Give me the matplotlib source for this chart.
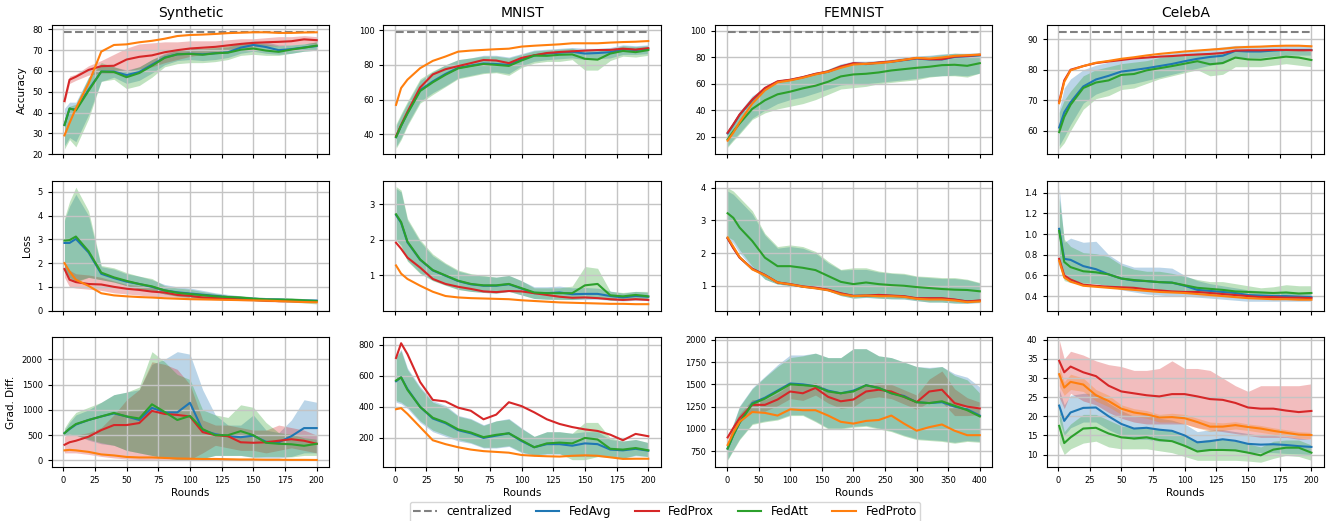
import matplotlib
matplotlib.use("Agg")
import matplotlib.pyplot as plt

# rounds at which the curves were logged
R200 = [1, 5, 10, 20, 30, 40, 50, 60, 70, 80, 90, 100, 110, 120, 130, 140, 150, 160, 170, 180, 190, 200]
R400 = [1, 10, 20, 40, 60, 80, 100, 120, 140, 160, 180, 200, 220, 240, 260, 280, 300, 320, 340, 360, 380, 400]

DATASETS = ["Synthetic", "MNIST", "FEMNIST", "CelebA"]
ROW_LABELS = ["Accuracy", "Loss", "Grad. Diff."]
METHODS = ["FedAvg", "FedProx", "FedAtt", "FedProto"]
CENTRALIZED = [78.5, 99.0, 99.2, 92.5]

# each entry: (mean, lower, upper); None where the spread is negligible
SYN_ACC = {
    "FedAvg": ([34, 41.8, 41.5, 51, 59.7, 59.7, 58, 59.5, 63, 66.5, 68, 68.3, 68, 68.5, 69, 71.2, 72.5, 71.5, 70, 70.5, 71.3, 72],
               [24, 28, 26, 39, 55, 57, 54, 55.5, 59, 63, 65, 65.5, 65, 65.5, 66.5, 68.5, 69.5, 68.5, 68, 68.5, 69.5, 70],
               [42, 45, 45, 57, 63, 62, 60.5, 62, 65.5, 68.5, 70.5, 71, 70.5, 71, 71.5, 73.5, 74.5, 74, 72.5, 72.5, 73, 74]),
    "FedProx": ([45.5, 55.8, 57.2, 60.5, 62.3, 62.5, 65.5, 66.8, 67.5, 69, 70, 70.8, 71.2, 71.6, 72.3, 73, 73.5, 73.8, 74, 74.3, 75.2, 74.8],
                [44, 54, 55.5, 58, 59, 59, 60, 61, 62, 64, 65.5, 67, 68, 69, 70, 71, 71.5, 72, 72, 72.5, 73, 73],
                [47, 57.5, 58.5, 62.5, 65, 68, 71, 73, 73.5, 74, 74, 74.5, 74.5, 74.5, 75, 75.5, 75.5, 76, 76.5, 76.5, 77, 76.5]),
    "FedAtt": ([34, 42, 41, 50.5, 59.7, 59.5, 57, 59, 62.5, 66.3, 68, 68.2, 67.8, 68.5, 68.8, 70.2, 70.8, 69.8, 69.2, 70.3, 71.2, 72.2],
               [22.5, 27, 23.5, 37, 55, 56, 51.5, 53, 57, 62, 63.5, 64, 64, 64.5, 65.5, 67.5, 68, 67.5, 67.5, 68.5, 69.5, 70],
               [36, 43, 44, 57, 64, 62, 60, 62, 65.5, 68, 70, 71, 71, 71.5, 72, 73.5, 73.5, 73, 72, 72.5, 73, 74]),
    "FedProto": ([29, 35, 42, 54, 69.3, 72.5, 72.8, 73.8, 74.5, 75.5, 76.8, 77.3, 77.5, 77.8, 78.2, 78.4, 78.6, 78.6, 78.3, 78.3, 78.5, 78.6],
                 None, None),
}
MNIST_ACC = {
    "FedAvg": ([38.5, 45, 52.5, 65.5, 70.5, 74.8, 78.3, 79.6, 80.8, 80.5, 80, 83, 85.5, 86.5, 87, 87.5, 86.5, 86.8, 87.3, 89, 88.5, 89.2],
               [33, 38, 46, 59, 64, 68, 72.5, 74, 75.5, 76, 75, 79.5, 82, 83, 83.5, 84, 83, 83.5, 84, 86, 86, 86.5],
               [45, 51, 58, 71, 76, 80, 83, 84, 85.5, 85.5, 84.5, 86.5, 88.5, 89, 89.5, 90, 89.5, 89.5, 90, 91.5, 91, 91.5]),
    "FedProx": ([39, 45.5, 53, 67, 74.5, 77.5, 79.3, 81, 82.8, 82.5, 81, 84, 85.5, 86.8, 87.4, 87.8, 88.2, 88.5, 88.6, 89.3, 88.8, 89.6],
                None, None),
    "FedAtt": ([38.5, 45, 52, 65, 70, 74.3, 78, 79.3, 80.5, 80, 79.4, 82.5, 85.3, 85.2, 85.8, 86, 83.5, 83, 86.5, 88, 87.3, 88.5],
               [32, 37, 45, 58, 63, 67.5, 72, 73.5, 75, 75.5, 74, 78.5, 81, 82, 82, 83, 77, 77, 82.5, 85, 84.5, 85.5],
               [46, 52, 59, 72, 76.5, 80, 83, 84, 85, 85, 84, 86, 88, 88.5, 89, 89.5, 88, 88, 89, 91, 90.5, 91]),
    "FedProto": ([57, 66.7, 71.5, 78.1, 82.3, 84.8, 87.6, 88.2, 88.6, 89, 89.3, 90.5, 91, 91.4, 91.8, 92.4, 92.4, 92.4, 92.8, 93.1, 93.3, 93.7],
                 None, None),
}
FEMNIST_ACC = {
    "FedAvg": ([22.5, 29, 36.5, 47.5, 56.5, 61.5, 62.8, 64.8, 67.3, 69, 72.7, 75.2, 74.8, 75.8, 76.5, 77.8, 79, 78.3, 78.3, 80.2, 80.7, 81.5],
               [13, 18, 23, 34, 40, 45, 48, 50, 53, 56, 59, 60, 60, 61, 62, 63, 64, 65.5, 66, 66.5, 66, 68],
               [24, 31, 39, 51, 57, 61, 63.5, 65.5, 68, 71, 75, 77, 77, 77.5, 78.5, 80, 81, 81.5, 82.5, 83, 83, 83.5]),
    "FedProx": ([23, 29.3, 36.8, 48, 56.8, 61.8, 63, 65, 67.5, 69.3, 73, 75.5, 75, 76, 76.8, 78, 79.3, 78.5, 78.5, 80.5, 81, 81.8],
                None, None),
    "FedAtt": ([18, 24, 30, 41, 47.5, 52, 54, 56.5, 58.5, 61.5, 65.5, 67, 67.5, 68.5, 70, 71, 72, 72.8, 74, 74.3, 73.5, 75.5],
               [12, 17, 22, 33, 38, 41, 43, 45, 48, 52, 56, 57, 58, 60, 61, 62, 63, 65, 66, 66, 65, 68],
               [22, 30, 38, 50, 56, 60.5, 63, 65, 67.5, 71, 74.5, 76, 76.5, 77, 78, 79.5, 80.5, 81, 82, 83, 82.5, 83]),
    "FedProto": ([17, 23, 31, 45, 55, 61, 62.5, 64.5, 67, 69, 72, 74.5, 75, 75.5, 76.5, 78, 79.5, 79, 79.8, 81, 81.5, 82],
                 None, None),
}
CELEBA_ACC = {
    "FedAvg": ([61, 66, 69.3, 74.5, 76.8, 78, 79.4, 79.9, 80.5, 81.2, 81.9, 82.8, 83.6, 84.2, 84.6, 86.2, 86, 86, 86.3, 86.5, 86.5, 86.5],
               [55, 58, 62, 69, 72, 73.5, 75, 75.5, 76.5, 77.5, 78.5, 79.5, 80.5, 81.5, 82, 84, 84, 84, 84.5, 84.8, 84.8, 84.8],
               [67, 74, 77, 80, 81.5, 82.5, 83.5, 84, 84.5, 85, 85.5, 86, 86.5, 87, 87.5, 88, 88, 88, 88, 88.2, 88.2, 88.2]),
    "FedProx": ([69.5, 76.5, 80, 81.2, 82.2, 82.7, 83.2, 83.7, 84, 84.3, 84.5, 84.8, 85, 85.2, 85.5, 86.3, 86.4, 86.4, 86.5, 86.5, 86.4, 86.4],
                None, None),
    "FedAtt": ([59.5, 64.5, 68.5, 74, 75.8, 76.5, 78.3, 78.6, 79.8, 80.5, 81.2, 82, 82.8, 81.8, 82.2, 84, 83.4, 83.3, 83.8, 84.3, 84, 83.2],
               [54, 56, 60, 67, 70.5, 71.5, 73.5, 74, 75.5, 77, 78, 79, 80, 78, 78.5, 81, 81, 81, 81.5, 82, 81.5, 81],
               [66, 70, 73, 78, 80, 81, 82, 82.5, 83, 84, 84.5, 85, 85.5, 85.5, 86, 86.5, 86.5, 86, 86.5, 86.5, 86.5, 86]),
    "FedProto": ([69, 76, 79.8, 81.2, 82.3, 82.9, 83.6, 84.1, 84.7, 85.2, 85.6, 86, 86.3, 86.6, 86.9, 87.3, 87.5, 87.6, 87.8, 87.9, 87.9, 87.7],
                 None, None),
}

SYN_LOSS = {
    "FedAvg": ([2.85, 2.85, 3.02, 2.45, 1.55, 1.37, 1.22, 1.12, 1.0, 0.85, 0.77, 0.72, 0.67, 0.62, 0.57, 0.53, 0.5, 0.47, 0.46, 0.44, 0.42, 0.42],
               [1.8, 1.4, 1.25, 1.4, 1.3, 1.2, 1.05, 0.92, 0.85, 0.7, 0.62, 0.57, 0.52, 0.5, 0.48, 0.45, 0.42, 0.4, 0.38, 0.36, 0.35, 0.35],
               [3.8, 4.4, 4.9, 4.0, 1.85, 1.75, 1.55, 1.45, 1.3, 1.1, 1.0, 0.95, 0.85, 0.75, 0.68, 0.62, 0.58, 0.55, 0.55, 0.52, 0.5, 0.48]),
    "FedProx": ([1.75, 1.3, 1.2, 1.12, 1.1, 1.0, 0.92, 0.87, 0.8, 0.76, 0.66, 0.62, 0.55, 0.53, 0.5, 0.47, 0.45, 0.42, 0.4, 0.4, 0.38, 0.38],
                [1.4, 1.0, 0.95, 0.9, 0.85, 0.75, 0.7, 0.65, 0.6, 0.58, 0.55, 0.5, 0.48, 0.46, 0.44, 0.42, 0.4, 0.38, 0.36, 0.36, 0.34, 0.34],
                [2.0, 1.7, 1.55, 1.5, 1.4, 1.25, 1.1, 1.05, 1.0, 0.92, 0.82, 0.75, 0.66, 0.62, 0.56, 0.52, 0.5, 0.46, 0.44, 0.44, 0.42, 0.42]),
    "FedAtt": ([2.95, 2.97, 3.12, 2.5, 1.6, 1.4, 1.25, 1.12, 1.02, 0.85, 0.75, 0.7, 0.65, 0.6, 0.57, 0.55, 0.5, 0.47, 0.46, 0.45, 0.43, 0.4],
               [1.7, 1.3, 1.2, 1.4, 1.3, 1.2, 1.05, 0.9, 0.85, 0.7, 0.6, 0.55, 0.5, 0.5, 0.47, 0.45, 0.42, 0.4, 0.38, 0.36, 0.32, 0.28],
               [3.9, 4.6, 5.2, 4.2, 1.9, 1.8, 1.6, 1.45, 1.35, 1.05, 0.95, 0.9, 0.8, 0.72, 0.65, 0.62, 0.58, 0.55, 0.55, 0.55, 0.5, 0.48]),
    "FedProto": ([2.0, 1.65, 1.3, 1.04, 0.73, 0.64, 0.6, 0.57, 0.55, 0.52, 0.5, 0.48, 0.47, 0.46, 0.45, 0.44, 0.43, 0.42, 0.4, 0.38, 0.36, 0.35],
                 None, None),
}
MNIST_LOSS = {
    "FedAvg": ([2.7, 2.48, 1.93, 1.44, 1.14, 0.99, 0.84, 0.75, 0.71, 0.71, 0.75, 0.63, 0.5, 0.5, 0.52, 0.47, 0.48, 0.48, 0.42, 0.38, 0.42, 0.4],
               [2.0, 1.85, 1.42, 1.07, 0.86, 0.73, 0.61, 0.55, 0.52, 0.5, 0.55, 0.45, 0.35, 0.33, 0.33, 0.32, 0.32, 0.33, 0.3, 0.28, 0.3, 0.3],
               [3.45, 3.35, 2.55, 1.95, 1.55, 1.32, 1.12, 1.03, 0.98, 0.95, 1.0, 0.85, 0.68, 0.68, 0.7, 0.65, 0.66, 0.64, 0.56, 0.5, 0.55, 0.52]),
    "FedProx": ([1.92, 1.75, 1.5, 1.22, 0.9, 0.76, 0.68, 0.62, 0.55, 0.53, 0.56, 0.55, 0.5, 0.45, 0.4, 0.37, 0.38, 0.36, 0.33, 0.31, 0.33, 0.31],
                None, None),
    "FedAtt": ([2.72, 2.5, 1.95, 1.45, 1.15, 1.0, 0.85, 0.76, 0.72, 0.72, 0.76, 0.64, 0.52, 0.5, 0.5, 0.5, 0.72, 0.76, 0.44, 0.41, 0.45, 0.41],
               [2.0, 1.8, 1.4, 1.05, 0.85, 0.72, 0.6, 0.55, 0.52, 0.5, 0.55, 0.45, 0.35, 0.33, 0.32, 0.32, 0.35, 0.38, 0.3, 0.3, 0.33, 0.32],
               [3.5, 3.4, 2.6, 2.0, 1.6, 1.35, 1.15, 1.05, 1.0, 0.95, 1.0, 0.85, 0.65, 0.65, 0.65, 0.7, 1.25, 1.2, 0.55, 0.52, 0.55, 0.55]),
    "FedProto": ([1.28, 1.05, 0.9, 0.71, 0.54, 0.42, 0.38, 0.36, 0.35, 0.34, 0.33, 0.3, 0.28, 0.26, 0.24, 0.23, 0.22, 0.21, 0.2, 0.2, 0.19, 0.19],
                 None, None),
}
FEMNIST_LOSS = {
    "FedAvg": ([2.46, 2.17, 1.87, 1.52, 1.33, 1.1, 1.04, 0.97, 0.93, 0.87, 0.76, 0.69, 0.7, 0.71, 0.69, 0.67, 0.61, 0.61, 0.61, 0.57, 0.52, 0.54],
               [2.45, 2.3, 2.0, 1.55, 1.2, 1.05, 1.0, 0.97, 0.92, 0.84, 0.7, 0.62, 0.64, 0.62, 0.6, 0.59, 0.54, 0.5, 0.5, 0.47, 0.46, 0.48],
               [3.9, 3.8, 3.6, 3.2, 2.55, 2.15, 2.2, 2.15, 2.0, 1.7, 1.48, 1.5, 1.5, 1.42, 1.38, 1.35, 1.28, 1.25, 1.22, 1.22, 1.18, 1.08]),
    "FedProx": ([2.45, 2.15, 1.86, 1.52, 1.33, 1.1, 1.05, 0.98, 0.94, 0.88, 0.77, 0.69, 0.7, 0.72, 0.7, 0.68, 0.62, 0.62, 0.62, 0.58, 0.52, 0.55],
                None, None),
    "FedAtt": ([3.22, 3.08, 2.78, 2.37, 1.86, 1.6, 1.6, 1.55, 1.48, 1.3, 1.12, 1.05, 1.1, 1.05, 1.02, 1.0, 0.96, 0.93, 0.9, 0.88, 0.87, 0.83],
               [2.5, 2.4, 2.1, 1.6, 1.2, 1.05, 1.0, 1.0, 0.95, 0.85, 0.7, 0.62, 0.65, 0.62, 0.6, 0.6, 0.55, 0.5, 0.5, 0.47, 0.47, 0.5],
               [4.0, 3.9, 3.7, 3.3, 2.6, 2.2, 2.25, 2.2, 2.05, 1.75, 1.5, 1.55, 1.55, 1.45, 1.4, 1.38, 1.3, 1.28, 1.25, 1.25, 1.2, 1.1]),
    "FedProto": ([2.48, 2.2, 1.88, 1.5, 1.32, 1.1, 1.04, 0.97, 0.92, 0.86, 0.74, 0.68, 0.7, 0.68, 0.68, 0.66, 0.6, 0.58, 0.58, 0.55, 0.5, 0.52],
                 None, None),
}
CELEBA_LOSS = {
    "FedAvg": ([1.05, 0.76, 0.75, 0.69, 0.66, 0.61, 0.57, 0.55, 0.545, 0.535, 0.53, 0.5, 0.46, 0.45, 0.44, 0.43, 0.41, 0.405, 0.4, 0.4, 0.395, 0.39],
               [0.72, 0.57, 0.55, 0.53, 0.52, 0.5, 0.46, 0.44, 0.42, 0.41, 0.4, 0.4, 0.39, 0.38, 0.37, 0.36, 0.35, 0.35, 0.35, 0.35, 0.35, 0.35],
               [1.45, 0.92, 0.96, 0.92, 0.93, 0.8, 0.72, 0.68, 0.68, 0.68, 0.67, 0.6, 0.55, 0.52, 0.5, 0.48, 0.46, 0.45, 0.44, 0.44, 0.43, 0.43]),
    "FedProx": ([0.76, 0.6, 0.56, 0.51, 0.5, 0.49, 0.485, 0.48, 0.465, 0.455, 0.445, 0.44, 0.44, 0.43, 0.42, 0.41, 0.4, 0.39, 0.39, 0.385, 0.385, 0.38],
                None, None),
    "FedAtt": ([1.03, 0.73, 0.68, 0.64, 0.63, 0.61, 0.57, 0.555, 0.545, 0.535, 0.53, 0.505, 0.48, 0.47, 0.46, 0.445, 0.44, 0.435, 0.43, 0.435, 0.425, 0.43],
               [0.7, 0.55, 0.53, 0.52, 0.52, 0.5, 0.48, 0.47, 0.46, 0.45, 0.45, 0.44, 0.43, 0.41, 0.4, 0.39, 0.38, 0.38, 0.37, 0.37, 0.37, 0.38],
               [1.35, 0.95, 0.88, 0.82, 0.81, 0.78, 0.7, 0.66, 0.64, 0.64, 0.62, 0.59, 0.56, 0.54, 0.54, 0.52, 0.5, 0.48, 0.49, 0.51, 0.5, 0.5]),
    "FedProto": ([0.74, 0.58, 0.54, 0.5, 0.49, 0.48, 0.47, 0.46, 0.45, 0.44, 0.435, 0.43, 0.42, 0.41, 0.4, 0.39, 0.38, 0.375, 0.37, 0.37, 0.365, 0.365],
                 None, None),
}

SYN_GRAD = {
    "FedAvg": ([540, 620, 710, 800, 870, 930, 870, 800, 1040, 950, 950, 1140, 600, 520, 480, 460, 490, 370, 360, 480, 640, 640],
               [500, 520, 500, 400, 330, 300, 200, 150, 100, 50, 20, 20, 40, 100, 100, 100, 60, 50, 50, 80, 150, 150],
               [600, 750, 900, 1000, 1150, 1300, 1350, 1400, 1900, 2000, 2150, 2100, 1400, 900, 700, 700, 900, 600, 550, 800, 1200, 1150]),
    "FedProx": ([310, 360, 390, 470, 600, 700, 700, 740, 980, 920, 900, 870, 560, 500, 480, 360, 350, 360, 390, 420, 390, 330],
                [150, 150, 150, 120, 80, 50, 30, 20, 10, 10, 20, 20, 150, 300, 250, 200, 200, 150, 200, 250, 200, 150],
                [480, 520, 500, 550, 650, 900, 1200, 1400, 1950, 1900, 1800, 1500, 800, 700, 700, 650, 600, 600, 700, 650, 600, 500]),
    "FedAtt": ([540, 630, 720, 800, 870, 940, 870, 830, 1110, 960, 800, 880, 620, 500, 500, 580, 500, 350, 330, 320, 290, 330],
               [500, 520, 500, 420, 350, 300, 200, 150, 100, 50, 20, 20, 40, 100, 100, 100, 70, 80, 80, 70, 100, 100],
               [640, 800, 950, 1050, 1150, 1300, 1350, 1450, 2150, 1950, 1700, 1600, 1000, 900, 850, 1100, 1050, 750, 550, 520, 450, 420]),
    "FedProto": ([200, 210, 200, 170, 120, 100, 70, 60, 60, 50, 40, 35, 30, 30, 25, 20, 20, 15, 15, 12, 12, 10],
                 None, None),
}
MNIST_GRAD = {
    "FedAvg": ([565, 590, 515, 400, 325, 295, 250, 230, 200, 215, 230, 180, 140, 160, 160, 150, 165, 160, 125, 120, 130, 118],
               [430, 420, 390, 300, 240, 210, 180, 165, 135, 135, 145, 105, 85, 95, 95, 80, 80, 80, 75, 70, 85, 80],
               [730, 770, 650, 530, 440, 410, 345, 325, 285, 310, 325, 265, 210, 240, 240, 230, 240, 240, 190, 180, 190, 170]),
    "FedProx": ([715, 810, 740, 560, 445, 435, 395, 375, 320, 350, 430, 405, 365, 320, 290, 270, 255, 245, 221, 185, 226, 211],
                None, None),
    "FedAtt": ([570, 590, 510, 400, 330, 300, 255, 235, 205, 220, 230, 185, 140, 165, 170, 165, 200, 190, 130, 125, 135, 120],
               [440, 430, 400, 310, 250, 220, 190, 170, 140, 140, 150, 110, 90, 100, 100, 60, 60, 80, 80, 70, 90, 80],
               [720, 760, 640, 520, 430, 400, 340, 320, 280, 310, 320, 260, 210, 240, 240, 230, 300, 300, 200, 180, 190, 170]),
    "FedProto": ([385, 392, 355, 270, 185, 160, 140, 125, 115, 110, 105, 90, 85, 82, 80, 85, 88, 85, 75, 65, 66, 66],
                 None, None),
}
FEMNIST_GRAD = {
    "FedAvg": ([780, 930, 1070, 1290, 1350, 1430, 1510, 1500, 1480, 1430, 1400, 1430, 1490, 1460, 1400, 1370, 1300, 1290, 1300, 1250, 1220, 1150],
               [660, 770, 890, 1060, 1090, 1110, 1160, 1160, 1090, 1010, 1010, 1030, 1040, 1010, 980, 930, 890, 880, 870, 850, 870, 860],
               [830, 1060, 1260, 1460, 1590, 1720, 1830, 1830, 1850, 1800, 1800, 1900, 1900, 1820, 1800, 1750, 1700, 1690, 1700, 1620, 1580, 1470]),
    "FedProx": ([905, 1010, 1120, 1270, 1270, 1330, 1420, 1400, 1460, 1360, 1310, 1330, 1420, 1440, 1420, 1360, 1300, 1420, 1440, 1290, 1250, 1230],
                [880, 970, 1070, 1200, 1200, 1260, 1340, 1320, 1380, 1290, 1230, 1250, 1340, 1360, 1340, 1280, 1220, 1300, 1300, 1150, 1150, 1160],
                [930, 1050, 1170, 1330, 1330, 1400, 1500, 1480, 1520, 1440, 1400, 1410, 1500, 1520, 1500, 1440, 1380, 1560, 1650, 1450, 1350, 1300]),
    "FedAtt": ([780, 930, 1070, 1280, 1340, 1420, 1500, 1490, 1480, 1420, 1400, 1420, 1490, 1460, 1400, 1360, 1300, 1290, 1310, 1260, 1210, 1140],
               [650, 760, 880, 1050, 1080, 1100, 1150, 1150, 1080, 1000, 1000, 1020, 1030, 1000, 970, 920, 880, 870, 860, 840, 860, 850],
               [820, 1050, 1250, 1450, 1580, 1700, 1800, 1820, 1850, 1800, 1800, 1900, 1900, 1820, 1800, 1750, 1700, 1680, 1700, 1600, 1550, 1400]),
    "FedProto": ([820, 960, 1080, 1190, 1180, 1150, 1220, 1210, 1210, 1150, 1080, 1060, 1090, 1100, 1150, 1060, 980, 1020, 1050, 980, 930, 930],
                 None, None),
}
CELEBA_GRAD = {
    "FedAvg": ([22.8, 18.8, 21, 22.2, 22.3, 20, 18, 16.8, 17, 16.5, 16.2, 15, 13.2, 13.5, 14, 13.6, 12.8, 12.6, 12.7, 12.5, 12.2, 12],
               [19, 15, 17, 18.5, 18.5, 16.5, 15, 14, 14, 13.5, 13.5, 12, 11, 11, 11.5, 11, 10.5, 10.5, 10.5, 10.3, 10.2, 10],
               [27, 23, 25.5, 26, 26, 23.5, 21.5, 20, 20.5, 19.5, 19, 18, 16, 16.5, 16.5, 16, 15.5, 15, 15, 14.7, 14.3, 14]),
    "FedProx": ([34.5, 31.5, 33, 31.5, 30.5, 28, 26.5, 26, 25.5, 25.2, 25.8, 25.8, 25.2, 24.5, 24.3, 23.5, 22.3, 22, 22, 21.5, 21.1, 21.4],
                [25, 22, 26, 24, 23, 21, 19.5, 18.5, 18, 18, 18, 18, 17, 16.5, 16, 15.5, 15, 14.5, 14.5, 14.5, 14, 14],
                [40, 35, 37, 36, 34.5, 33.5, 33, 32, 32, 32.5, 34.5, 32.5, 32.5, 32, 30, 28, 26.5, 28, 28, 28, 28, 28.5]),
    "FedAtt": ([17.5, 13, 14.5, 16.8, 17, 15.5, 14.5, 14.2, 14.5, 13.8, 13.5, 12.3, 10.8, 11.2, 11.2, 11.1, 10.5, 9.8, 11.3, 11.8, 11.8, 10.5],
               [13, 10, 11.5, 13, 13.5, 12, 11.5, 11.5, 11.5, 11, 10.5, 9.5, 8.5, 8.5, 8.5, 8.5, 8.3, 8, 9, 9.8, 9.5, 8.5],
               [22, 16, 18, 20.5, 20.5, 19, 17.5, 17, 17, 16.5, 16.5, 15, 13.5, 14, 14, 13.5, 12.8, 12, 13.5, 13.8, 13.8, 12.5]),
    "FedProto": ([31, 27.5, 29, 28.3, 25.5, 24, 22, 21, 20.5, 19.7, 19.8, 19.5, 18.5, 17.3, 17.3, 17.7, 17.2, 16.8, 16.2, 15.7, 15.2, 15.1],
                 [28, 25.5, 27, 26.5, 24, 22.5, 20.5, 20, 19.5, 18.5, 18.5, 18, 17, 16, 16.3, 16.7, 16.3, 15.8, 15.3, 14.8, 14.3, 14.2],
                 [33, 29, 31, 30, 27, 25.5, 23, 22, 21.5, 20.5, 20.8, 20.5, 19.5, 18.5, 18.3, 18.6, 18, 17.6, 17, 16.5, 16, 15.8]),
}

PANELS = [
    [SYN_ACC, MNIST_ACC, FEMNIST_ACC, CELEBA_ACC],
    [SYN_LOSS, MNIST_LOSS, FEMNIST_LOSS, CELEBA_LOSS],
    [SYN_GRAD, MNIST_GRAD, FEMNIST_GRAD, CELEBA_GRAD],
]
ROUNDS = [R200, R200, R400, R200]

COLORS = {"FedAvg": "tab:blue", "FedProx": "tab:red", "FedAtt": "tab:green", "FedProto": "tab:orange"}

YLIMS = [
    [(19.9, 82.1), (28.6, 102.9), (6.7, 104.3), (52.2, 94.7)],
    [(0, 5.45), (0.01, 3.65), (0.24, 4.2), (0.26, 1.51)],
    [(-125, 2430), (14, 847), (575, 2026), (6.8, 40.6)],
]
YTICKS = [
    [[20, 30, 40, 50, 60, 70, 80], [40, 60, 80, 100], [20, 40, 60, 80, 100], [60, 70, 80, 90]],
    [[0, 1, 2, 3, 4, 5], [1, 2, 3], [1, 2, 3, 4], [0.4, 0.6, 0.8, 1.0, 1.2, 1.4]],
    [[0, 500, 1000, 1500, 2000], [200, 400, 600, 800], [750, 1000, 1250, 1500, 1750, 2000],
     [10, 15, 20, 25, 30, 35, 40]],
]

fig, axes = plt.subplots(3, 4, figsize=(13.3, 5.21), dpi=100)
fig.subplots_adjust(left=0.039, right=0.9955, top=0.952, bottom=0.104, wspace=0.195, hspace=0.208)

for i in range(3):
    for j in range(4):
        ax = axes[i][j]
        x = ROUNDS[j]
        if i == 0:
            ax.plot([x[0], x[-1]], [CENTRALIZED[j], CENTRALIZED[j]], "--", color="gray",
                    lw=1.5, label="centralized")
        for m in METHODS:
            mean, lo, hi = PANELS[i][j][m]
            ax.plot(x, mean, color=COLORS[m], lw=1.5, label=m)
            if lo is not None:
                ax.fill_between(x, lo, hi, color=COLORS[m], alpha=0.3, lw=0)
        ax.set_ylim(*YLIMS[i][j])
        ax.set_yticks(YTICKS[i][j])
        ax.set_xticks(range(0, x[-1] + 1, x[-1] // 8))
        ax.grid(True, color="#c4c4c4", lw=1.0)
        ax.tick_params(labelsize=6, length=3)
        if i < 2:
            ax.tick_params(labelbottom=False)
        else:
            ax.set_xlabel("Rounds", fontsize=7.5, labelpad=2)
        if j == 0:
            ax.set_ylabel(ROW_LABELS[i], fontsize=7.5)
        if i == 0:
            ax.set_title(DATASETS[j], fontsize=10)

handles, labels = axes[0][0].get_legend_handles_labels()
fig.legend(handles, labels, loc="upper center", bbox_to_anchor=(0.5, 0.048), ncol=5,
           fontsize=8.5, borderpad=0.3)

fig.savefig("out.png", dpi=100)
